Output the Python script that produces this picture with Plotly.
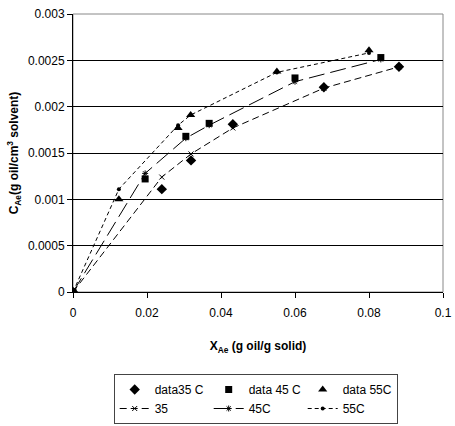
import plotly.graph_objects as go

# data points
x35 = [0, 0.0240, 0.0319, 0.0432, 0.0678, 0.0881]
y35 = [0, 0.00111, 0.00142, 0.00181, 0.00221, 0.00243]
x45 = [0, 0.0195, 0.0305, 0.0368, 0.0600, 0.0832]
y45 = [0, 0.00122, 0.00168, 0.00182, 0.00231, 0.00253]
x55 = [0, 0.0124, 0.0284, 0.0318, 0.0551, 0.0800]
y55 = [0, 0.00100, 0.00177, 0.00191, 0.00238, 0.00261]

# fitted model values
fy35 = [0, 0.00124, 0.00149, 0.00177, 0.00220, 0.00243]
fy45 = [0, 0.00128, 0.00166, 0.00180, 0.00227, 0.00251]
fy55 = [0, 0.00111, 0.00180, 0.00191, 0.00237, 0.00258]

xticks = [0, 0.02, 0.04, 0.06, 0.08, 0.1]
xticklabels = ["0", "0.02", "0.04", "0.06", "0.08", "0.1"]
yticks = [0, 0.0005, 0.001, 0.0015, 0.002, 0.0025, 0.003]
yticklabels = ["0", "0.0005", "0.001", "0.0015", "0.002", "0.0025", "0.003"]

fig = go.Figure()
fig.add_trace(go.Scatter(x=x35, y=y35, mode="markers", name="data35 C",
                         marker=dict(symbol="diamond", size=8, color="black")))
fig.add_trace(go.Scatter(x=x45, y=y45, mode="markers", name="data 45 C",
                         marker=dict(symbol="square", size=7, color="black")))
fig.add_trace(go.Scatter(x=x55, y=y55, mode="markers", name="data 55C",
                         marker=dict(symbol="triangle-up", size=8, color="black")))
fig.add_trace(go.Scatter(x=x35, y=fy35, mode="lines+markers", name="35",
                         line=dict(color="black", width=1, dash="7px,4px"),
                         marker=dict(symbol="x-thin", size=5, color="black",
                                     line=dict(color="black", width=1))))
fig.add_trace(go.Scatter(x=x45, y=fy45, mode="lines+markers", name="45C",
                         line=dict(color="black", width=1, dash="16px,6px"),
                         marker=dict(symbol="asterisk", size=5, color="black",
                                     line=dict(color="black", width=1))))
fig.add_trace(go.Scatter(x=x55, y=fy55, mode="lines+markers", name="55C",
                         line=dict(color="black", width=1, dash="4px,3px"),
                         marker=dict(symbol="circle", size=4, color="black")))

fig.update_layout(
    width=455, height=426,
    margin=dict(l=73, r=12, t=14, b=134, autoexpand=False),
    paper_bgcolor="white", plot_bgcolor="white",
    font=dict(family="Liberation Sans, Arial, sans-serif", size=12, color="black"),
    showlegend=True,
    legend=dict(orientation="h", x=0.11, y=-0.295, xanchor="left", yanchor="top",
                bordercolor="#444", borderwidth=1, entrywidth=49,
                font=dict(size=12), itemsizing="trace"),
    shapes=[dict(type="rect", xref="paper", yref="paper", x0=0, y0=0, x1=1, y1=1,
                 line=dict(color="#888", width=1), layer="below")],
)
fig.update_xaxes(range=[0, 0.1], tickvals=xticks, ticktext=xticklabels,
                 showgrid=False, zeroline=False, showline=True, linecolor="black",
                 linewidth=1, ticks="outside", ticklen=5, tickcolor="black",
                 ticklabelstandoff=5,
                 title=dict(text="<b>X<sub>Ae</sub> (g oil/g solid)</b>", standoff=22,
                            font=dict(size=12)))
fig.update_yaxes(range=[0, 0.003], tickvals=yticks, ticktext=yticklabels,
                 showgrid=True, gridcolor="black", gridwidth=1, zeroline=False,
                 showline=True, linecolor="black", linewidth=1,
                 ticks="outside", ticklen=5, tickcolor="black",
                 title=dict(text="<b>C<sub>Ae</sub>(g oil/cm<sup>3</sup> solvent)</b>",
                            standoff=6, font=dict(size=12)))

fig.write_html("out.html")
